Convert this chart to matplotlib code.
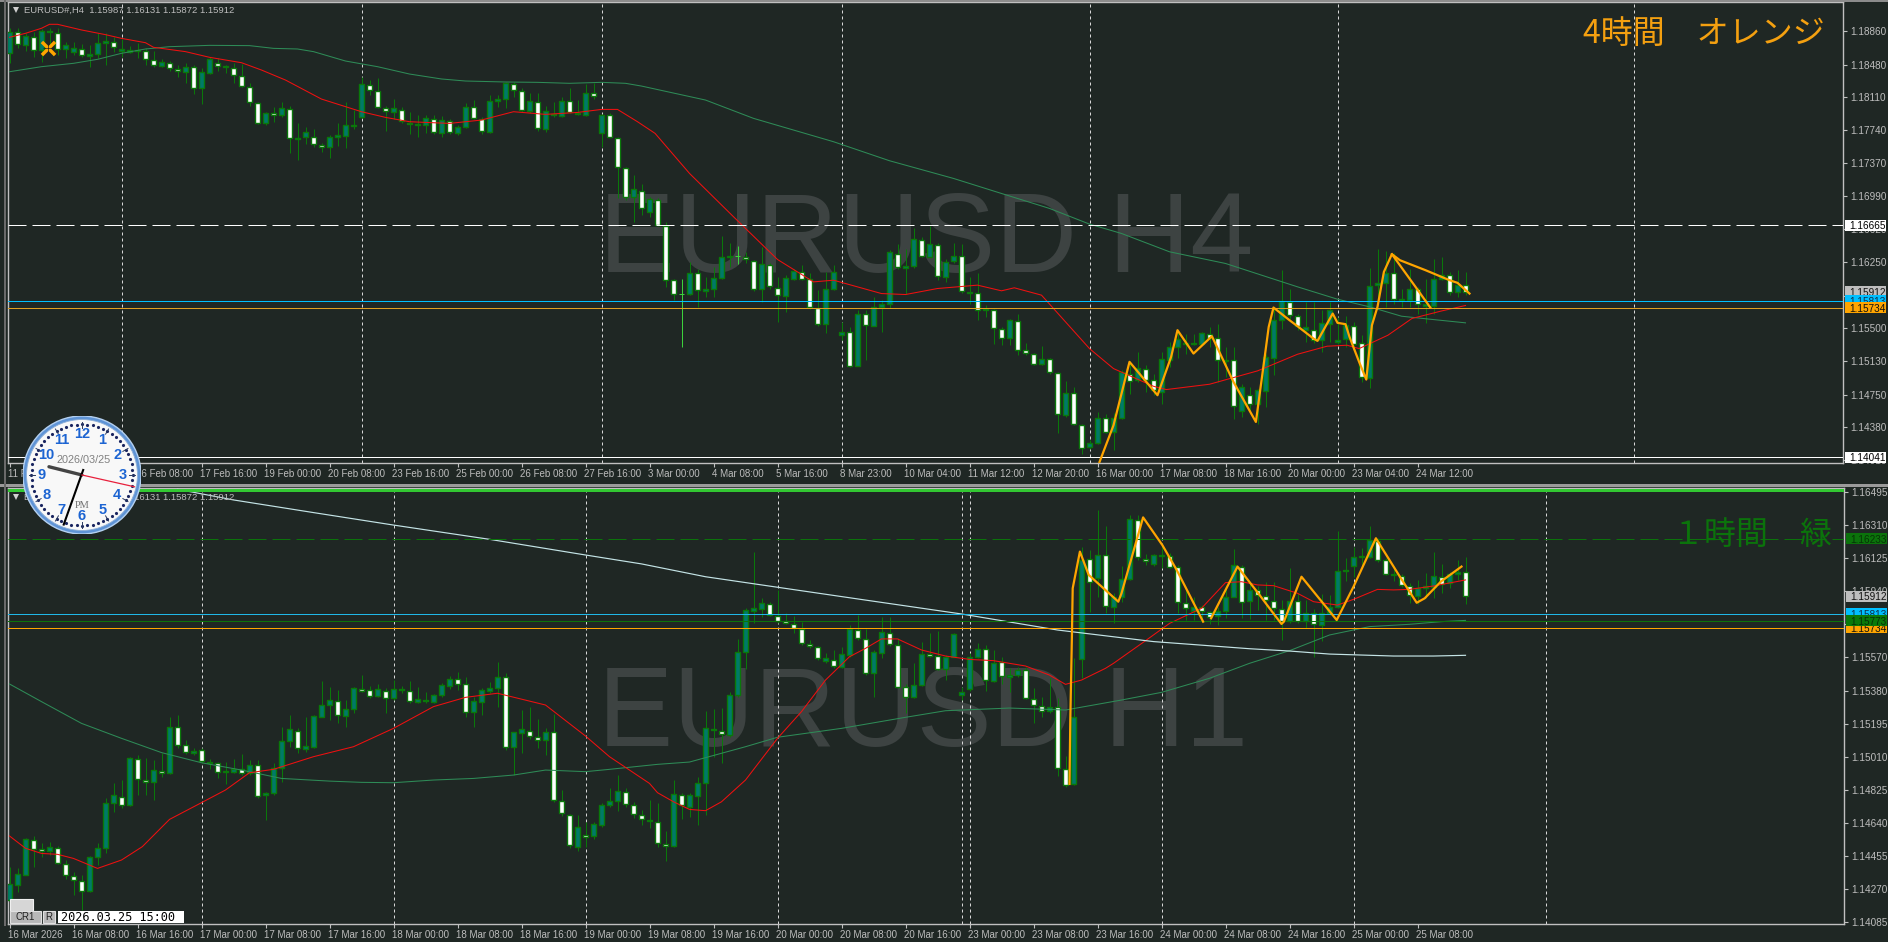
import numpy as np
import matplotlib
matplotlib.use("Agg")
import matplotlib.pyplot as plt
from matplotlib.patches import Rectangle, Circle
from matplotlib.transforms import blended_transform_factory as blend, ScaledTranslation

# ---- data: prices are in points, 18860 means 1.18860 ----
top_open = [18608,18853,18702,18796,18646,18864,18842,18653,18627,18657,
18581,18596,18728,18740,18638,18627,18634,18638,18532,18468,
18502,18431,18400,18457,18212,18389,18502,18449,18442,18351,
18231,18050,17816,17937,17907,17982,17643,17658,17665,17575,
17545,17658,17677,17786,17892,18253,18186,17993,17948,17971,
17824,17793,17793,17869,17710,17846,17710,17778,18005,17861,
17722,18065,18088,18261,18186,17959,18057,17748,17922,17899,
18072,17937,17914,18163,17710,17914,17650,17311,16979,17055,
16817,16949,16655,16044,15893,15893,16120,15924,15946,16074,
16301,16323,16308,16263,15939,16218,15961,15871,16059,16138,
16059,15735,15547,15946,15426,15460,15079,15660,15531,15743,
15780,16338,16187,16202,16497,16308,16440,16082,16263,16316,
15901,15901,15705,15705,15494,15388,15584,15253,15207,15102,
15154,14996,14521,14770,14408,14159,14204,14487,14329,14491,
14989,14913,15045,14913,14781,15147,15290,15320,15320,15320,
15441,15396,15132,15139,14566,14751,14649,14793,15170,15599,
15799,15637,15479,15479,15366,15554,15350,15384,15524,15335,
14943,15988,16007,16127,15818,15818,15939,15750,15750,16052,
16104,15912,15987]
top_close = [18853,18713,18804,18646,18864,18849,18657,18702,18664,18589,
18596,18728,18743,18676,18653,18642,18645,18544,18476,18506,
18442,18408,18457,18212,18393,18540,18465,18465,18363,18238,
18057,17816,17937,17914,17986,17650,17650,17722,17582,17548,
17658,17680,17793,17793,18261,18193,17997,17956,17990,17846,
17809,17809,17873,17718,17850,17718,17778,17997,17873,17726,
18065,18088,18269,18193,17967,18065,17760,17959,17907,18072,
17941,17922,18155,18121,17914,17665,17326,16987,17070,16855,
16957,16666,16044,15893,15893,16120,15931,15950,16074,16301,
16323,16323,16282,15939,16225,15976,15875,16074,16146,16063,
15743,15547,15950,16138,15464,15079,15667,15535,15743,15780,
16357,16195,16202,16504,16316,16448,16089,16252,16323,15924,
15916,15705,15724,15501,15388,15592,15253,15219,15094,15158,
15004,14529,14774,14416,14144,14208,14491,14333,14491,15008,
14906,15056,14913,14800,15158,15290,15384,15335,15335,15452,
15396,15147,15147,14619,14838,14649,14800,15177,15599,15810,
15648,15524,15516,15366,15565,15705,15373,15535,15328,14951,
15984,16007,16127,15833,15837,15939,15773,15773,16052,16108,
15916,15988,15912]
top_high = [18891,18891,18834,18853,18879,18891,18891,18740,18740,18710,
18702,18834,18842,18789,18766,18691,18721,18664,18638,18540,
18525,18476,18495,18476,18438,18563,18551,18476,18495,18487,
18269,18061,17948,18005,18061,18012,17816,17771,17748,17598,
17684,17816,18061,17967,18336,18306,18325,18012,18088,17997,
17948,17910,17910,17910,17899,17861,17797,18050,18080,17892,
18137,18137,18287,18287,18212,18155,18155,18012,18061,18118,
18212,18080,18261,18269,17922,17929,17658,17326,17232,17130,
16987,16968,16704,16063,16056,16252,16176,16082,16195,16542,
16459,16429,16365,16270,16421,16233,16082,16101,16176,16214,
16120,15931,16138,16214,15573,15516,15705,15705,15856,15818,
16384,16451,16402,16629,16527,16655,16459,16278,16459,16451,
16082,16127,15761,15724,15516,15611,15660,15335,15222,15298,
15170,15008,14906,14838,14423,14235,14555,14536,14544,15026,
15121,15234,15083,14989,15234,15347,15479,15441,15441,15460,
15516,15547,15290,15290,14876,14838,14819,15215,15724,16157,
15939,15667,15799,15799,15705,15799,15630,15637,15573,15422,
16187,16391,16376,16346,15939,16176,15969,16063,16278,16308,
16138,16157,16131]
top_low = [18502,18664,18638,18570,18514,18646,18589,18551,18589,18563,
18457,18551,18476,18627,18570,18608,18551,18476,18457,18457,
18412,18336,18276,18148,18035,18374,18412,18382,18269,18223,
18012,17809,17797,17835,17892,17484,17401,17582,17545,17492,
17428,17560,17533,17756,17873,18137,17986,17733,17861,17824,
17695,17665,17703,17695,17658,17695,17684,17760,17861,17695,
17710,18005,17986,18110,17948,17937,17733,17722,17884,17884,
17929,17910,17899,18095,17545,17658,16968,16949,16704,16779,
16760,16655,15969,15818,15290,15875,15743,15856,15856,16063,
16195,16225,16233,15924,15799,15950,15573,15686,16044,16044,
15724,15524,15449,15931,15366,15064,15072,15139,15524,15460,
15735,16176,15893,16187,16301,16301,16044,16025,16233,15901,
15773,15592,15630,15328,15309,15309,15196,15196,15083,15083,
14989,14317,14499,14404,14084,14140,14189,14318,14122,14480,
14762,14894,14781,14744,14649,15064,15170,15215,15309,15309,
15290,14894,14951,14480,14499,14555,14423,14612,14970,15498,
15611,15479,15347,15335,15234,15347,15328,15290,15309,14894,
14830,15780,15743,15773,15743,15743,15660,15562,15667,16044,
15875,15856,15872]

bot_open = [14207,14293,14349,14543,14491,14480,14500,14409,14341,14315,
14255,14446,14497,14749,14787,14738,14996,14880,14867,14932,
14918,15179,15075,15033,15048,14976,14977,14923,14927,14942,
14917,14964,14794,14809,14946,15101,15157,15056,15067,15236,
15299,15325,15241,15277,15393,15387,15352,15382,15342,15393,
15382,15320,15331,15320,15355,15410,15447,15419,15260,15320,
15382,15395,15460,15067,15146,15157,15123,15103,15151,14764,
14686,14506,14573,14566,14629,14738,14760,14815,14742,14686,
14657,14646,14521,14512,14798,14730,14792,14865,15168,15157,
15135,15355,15597,15831,15842,15870,15802,15771,15758,15730,
15645,15628,15550,15552,15516,15584,15724,15670,15483,15595,
15707,15640,15402,15344,15415,15589,15574,15501,15572,15359,
15389,15572,15617,15438,15541,15460,15468,15498,15337,15295,
15269,15290,14944,14856,15557,16119,16012,16143,15853,15905,
16010,16339,16119,16093,16137,16137,16074,15875,15831,15849,
15821,15801,15831,15909,16078,15887,15947,15913,15887,15840,
15771,15887,15771,15819,15752,15816,15849,16061,16081,16130,
16130,16223,16113,16029,16025,15969,15915,15956,15965,16020,
15988,16036,16048]
bot_close = [14296,14351,14547,14491,14480,14502,14412,14345,14319,14255,
14446,14497,14749,14794,14738,15002,14884,14869,14934,14921,
15179,15077,15035,15045,14985,14983,14925,14931,14944,14919,
14966,14790,14809,14946,15101,15165,15060,15069,15239,15299,
15327,15245,15277,15395,15382,15352,15389,15340,15389,15385,
15322,15333,15322,15355,15411,15449,15419,15260,15322,15383,
15395,15460,15067,15148,15165,15127,15105,15151,14768,14693,
14515,14618,14562,14631,14738,14760,14817,14745,14689,14663,
14648,14525,14510,14800,14738,14794,14865,15170,15161,15136,
15355,15597,15834,15844,15872,15808,15774,15760,15733,15647,
15630,15563,15563,15520,15585,15726,15675,15483,15597,15709,
15642,15404,15346,15415,15585,15576,15503,15572,15698,15374,
15572,15614,15441,15539,15464,15468,15498,15338,15299,15267,
15292,14946,14850,15236,16115,15993,16143,15857,15905,16010,
16343,16130,16111,16141,16143,16074,15879,15845,15853,15831,
15797,15829,15909,16085,15879,15947,15919,15890,15844,15774,
15887,15773,15819,15756,15819,15849,16055,16053,16134,16136,
16227,16115,16036,16036,15973,15919,15956,15971,16023,15980,
16036,16048,15912]
bot_high = [14394,14384,14553,14566,14525,14534,14510,14431,14366,14347,
14454,14525,14777,14865,14880,15011,15020,15002,14992,15030,
15232,15245,15105,15058,15058,14996,14983,14983,14996,15024,
14992,14992,14815,14974,15176,15245,15170,15236,15245,15436,
15400,15385,15329,15400,15469,15408,15419,15395,15441,15408,
15436,15400,15376,15363,15426,15464,15488,15456,15348,15395,
15432,15544,15479,15151,15273,15288,15221,15170,15249,14824,
14689,14684,14646,14646,14749,14833,14908,14833,14759,14712,
14768,14749,14596,14880,14805,14805,14899,15269,15277,15282,
15376,15670,15844,16160,15900,15881,15947,15816,15801,15769,
15666,15632,15591,15610,15628,15750,15806,15726,15610,15793,
15793,15675,15419,15535,15657,15707,15718,15582,15707,15404,
15591,15647,15638,15610,15569,15507,15516,15513,15395,15348,
15451,15339,15015,15563,16190,16171,16396,16306,15928,16081,
16368,16368,16149,16149,16209,16152,16087,15956,15909,15862,
15831,15853,15965,16175,16087,15984,15969,15993,15993,15890,
16068,15928,15890,15838,15924,15919,16280,16124,16186,16180,
16306,16237,16124,16074,16036,15984,16003,16044,16162,16093,
16049,16115,16130]
bot_low = [14150,14253,14345,14394,14450,14459,14409,14326,14235,14150,
14251,14403,14472,14702,14721,14734,14796,14796,14768,14895,
14914,15058,15026,15020,14974,14940,14889,14858,14917,14908,
14908,14777,14656,14796,14871,15067,15034,15039,15058,15232,
15217,15202,15176,15258,15376,15339,15348,15258,15329,15367,
15314,15310,15314,15314,15348,15393,15385,15232,15176,15245,
15367,15292,15048,14908,15030,15108,15058,15020,14758,14678,
14497,14483,14506,14547,14618,14730,14708,14730,14665,14627,
14609,14506,14427,14506,14659,14671,14626,14684,15007,14977,
15123,15348,15501,15763,15797,15801,15763,15756,15703,15638,
15619,15554,15539,15507,15507,15572,15666,15469,15348,15563,
15632,15395,15254,15339,15408,15572,15497,15441,15569,15329,
15381,15563,15381,15432,15419,15376,15460,15333,15198,15236,
15254,14903,14839,14852,15451,15825,15909,15816,15760,15881,
16003,16115,16085,16081,16068,16068,15819,15778,15778,15778,
15756,15750,15788,15905,15788,15782,15834,15778,15778,15666,
15759,15763,15731,15572,15662,15806,15844,15999,16021,16068,
16124,16106,16031,15999,15965,15872,15868,15900,15900,15928,
15956,16003,15868]

top_red_bar = [0,2,4,5,6,9,12,14,17,18,22,25,29,31.5,34.5,39,44,47,50,55,59,63,67,71,74,76,78.5,80.7,85,90.5,96,100.5,103,109,112,116,121,124,125.6,129,135,138,143,144.6,150,156,161,164.7,167.2,168.7,172.3,175.3,178.9,182]
top_red_val = [18789,18834,18891,18936,18936,18872,18819,18777,18728,18676,18627,18563,18502,18419,18306,18091,17948,17884,17835,17816,17854,17948,17918,17940,17974,17974,17835,17703,17251,16761,16278,16025,16044,15893,15882,15950,15988,15924,15958,15875,15271,15045,14845,14808,14868,15019,15207,15298,15309,15271,15422,15611,15694,15758]
top_green_bar = [0,4,8,11,14,17,20,25,30,33,36,38,42,46,50,54,57,62,66,70,74,77,79,87,93,103,110,118,124,130,135,139,145,152,161,166,170,174,178,182]
top_green_val = [18400,18457,18495,18540,18608,18657,18683,18698,18695,18664,18657,18627,18521,18457,18374,18318,18295,18284,18280,18269,18280,18269,18238,18080,17873,17609,17394,17194,17024,16855,16678,16572,16365,16233,15969,15829,15743,15637,15599,15562]
top_zig_bar = [136.25,138,139,140,143.5,145.2,146,148,150.3,153,155.8,156.9,157.4,158,160,161,163,163.5,165.4,166,167,167.5,168.7,169.6,170.3,171,171.8,172.8,173.8,177,180,181,182.5]
top_zig_val = [13989,14404,14762,15121,14744,15177,15479,15215,15411,14894,14442,15177,15516,15735,15592,15524,15384,15358,15667,15562,15547,15403,15121,14921,15535,15743,16138,16338,16270,16157,16044,16014,15893]
top_zig2_bar = [172.8,175.9,177.6]
top_zig2_val = [16338,15950,15735]

bot_red_bar = [0,2,4,6,8,11,14,16.6,20,24,27,30,33,38,43,48,53,57,61,67,72,75,80,81,83,85,87,89,92,96,99,102,105,107,109,111,114,117,120,123,127,130,132,134,137,138,142,145,149,152,154,156,158,161,163,166,168,171,173,175,178,182]
bot_red_val = [14566,14497,14468,14463,14440,14384,14431,14506,14659,14753,14824,14921,14940,15011,15067,15170,15292,15344,15367,15301,15127,15011,14861,14809,14758,14715,14708,14758,14880,15114,15264,15441,15572,15619,15672,15672,15610,15576,15557,15550,15520,15469,15417,15441,15507,15535,15662,15759,15844,15988,15993,15975,15971,15928,15881,15862,15894,15950,15947,15950,15969,16003]
bot_green_bar = [0,4,9,14,19,24,29,34,40,44,48,53,58,63,67,72,75,81,85,92,96,104,112,117,125,132,139,144,150,155,160,165,170,175,179,182]
bot_green_val = [15419,15320,15198,15114,15034,14977,14936,14889,14874,14867,14865,14880,14889,14908,14936,14927,14940,14968,14981,15067,15120,15170,15232,15269,15284,15273,15329,15372,15451,15535,15606,15694,15741,15754,15769,15776]
bot_pale_bar = [21,28,38,48,60,72,79,87,96,107,119,131,143,155,160,165,173,178,182]
bot_pale_val = [16512,16452,16381,16311,16231,16143,16093,16021,15962,15890,15812,15722,15657,15617,15604,15587,15576,15576,15580]
bot_zig1_bar = [132.5,132.6,132.8,132.9,133.8,134.9,138.6,139,141.7,144.1,145.9,149.2]
bot_zig1_val = [14858,15217,15685,15956,16162,16031,15881,15928,16354,16199,16059,15769]
bot_zig2_bar = [150.2,153.5,156.25,157.5,159,159.3,161.5,165.9,168,170.8,173.8,175.9,176.9,178.9,181.5]
bot_zig2_val = [15788,16078,15919,15844,15756,15769,16021,15778,15965,16237,16021,15875,15900,15993,16078]

top_tick_vals = [18860,18480,18110,17740,17370,16990,16620,16250,15870,15500,15130,14750,14380,14010]
bot_tick_vals = [16495,16310,16125,15940,15755,15570,15380,15195,15010,14825,14640,14455,14270,14085]
top_vgrid = [14,44,74,104,135,166,203]
bot_vgrid = [24,48,72,96,119,120,144,168,192]
top_dates = ["11 Feb 16:00","13 Feb 00:00","16 Feb 08:00","17 Feb 16:00","19 Feb 00:00","20 Feb 08:00","23 Feb 16:00","25 Feb 00:00","26 Feb 08:00","27 Feb 16:00","3 Mar 00:00","4 Mar 08:00","5 Mar 16:00","8 Mar 23:00","10 Mar 04:00","11 Mar 12:00","12 Mar 20:00","16 Mar 00:00","17 Mar 08:00","18 Mar 16:00","20 Mar 00:00","23 Mar 04:00","24 Mar 12:00"]
bot_dates = ["16 Mar 2026","16 Mar 08:00","16 Mar 16:00","17 Mar 00:00","17 Mar 08:00","17 Mar 16:00","18 Mar 00:00","18 Mar 08:00","18 Mar 16:00","19 Mar 00:00","19 Mar 08:00","19 Mar 16:00","20 Mar 00:00","20 Mar 08:00","20 Mar 16:00","23 Mar 00:00","23 Mar 08:00","23 Mar 16:00","24 Mar 00:00","24 Mar 08:00","24 Mar 16:00","25 Mar 00:00","25 Mar 08:00"]

# ---- styling ----
W, H = 1888, 942
BG = "#1F2724"; TEAL = "#007A68"; WICK = "#0A780A"; LIME = "#3CD23C"
AXC = "#C0C0C0"; TXT = "#BDBDBD"; BLUE = "#00BFFF"; ORG = "#FFA500"
DKG = "#0B730B"; SEA = "#2E8B57"; WM = "#3D4342"
UI = "Liberation Sans"
PX = 0.72  # linewidth of one pixel at dpi 100

def price(v):
    return 1 + np.asarray(v, dtype=float) / 1e5

fig = plt.figure(figsize=(W / 100, H / 100), dpi=100, facecolor=BG)

def make_axes(left, right, top, bottom):
    ax = fig.add_axes([left / W, 1 - bottom / H, (right - left) / W, (bottom - top) / H])
    ax.set_facecolor(BG)
    for s in ax.spines.values():
        s.set_color(AXC); s.set_linewidth(1.0)
    # 8 pixels per bar, bar 0 sitting at pixel 9.5
    ax.set_xlim((left - 9.5) / 8, (right - 9.5) / 8)
    return ax

ax1 = make_axes(8, 1843, 2, 463)
ax2 = make_axes(8, 1844, 488, 924)
ax1.set_ylim(1.13978, 1.19188)
ax2.set_ylim(1.14072, 1.16519)

def candles(ax, o, h, l, c):
    o, h, l, c = map(price, (o, h, l, c))
    x = np.arange(len(o))
    doji = o == c
    ax.vlines(x[~doji], l[~doji], h[~doji], color=WICK, lw=PX, zorder=3)
    ax.vlines(x[doji], l[doji], h[doji], color=LIME, lw=PX, zorder=3)
    ax.hlines(o[doji], x[doji] - 0.3, x[doji] + 0.3, color=LIME, lw=PX, zorder=3)
    up = c > o; dn = c < o
    ax.bar(x[up], (c - o)[up], bottom=o[up], width=0.6, facecolor=TEAL, edgecolor=WICK, linewidth=1.0, zorder=3.2)
    ax.bar(x[dn], (c - o)[dn], bottom=o[dn], width=0.6, facecolor="white", edgecolor=WICK, linewidth=1.0, zorder=3.2)

candles(ax1, top_open, top_high, top_low, top_close)
candles(ax2, bot_open, bot_high, bot_low, bot_close)

for ax, xs in ((ax1, top_vgrid), (ax2, bot_vgrid)):
    for b in xs:
        ax.axvline(b, color="#D8D8D8", lw=PX, ls=(0, (3, 3)), zorder=2)

# moving averages
ax1.plot(top_green_bar, price(top_green_val), color=SEA, lw=0.75, zorder=4)
ax1.plot(top_red_bar, price(top_red_val), color="#F01010", lw=0.75, zorder=4.1)
ax2.plot(bot_green_bar, price(bot_green_val), color=SEA, lw=0.75, zorder=4)
ax2.plot(bot_red_bar, price(bot_red_val), color="#F01010", lw=0.75, zorder=4.1)
ax2.plot(bot_pale_bar, price(bot_pale_val), color="#C4E4E6", lw=0.85, zorder=4.2)

# zigzags
for xs, ys, ax in ((top_zig_bar, top_zig_val, ax1), (top_zig2_bar, top_zig2_val, ax1),
                   (bot_zig1_bar, bot_zig1_val, ax2), (bot_zig2_bar, bot_zig2_val, ax2)):
    ax.plot(xs, price(ys), color=ORG, lw=1.6, zorder=5, solid_joinstyle="round")

# horizontal price lines
ax1.axhline(price(16665), color="white", lw=PX, ls=(0, (18, 6)), zorder=4.5)
ax1.axhline(price(15813), color=BLUE, lw=PX, zorder=4.5)
ax1.axhline(price(15734), color="#E0A020", lw=PX, zorder=4.5)
ax1.axhline(price(14041), color="white", lw=PX, zorder=4.5)
ax2.axhline(price(16233), color=DKG, lw=PX, ls=(0, (18, 6)), zorder=4.5)
ax2.axhline(price(15813), color="#20B8E8", lw=PX, zorder=4.5)
ax2.axhline(price(15773), color=DKG, lw=PX, zorder=4.5)
ax2.axhline(price(15734), color=ORG, lw=PX, zorder=4.5)

# watermarks behind the candles
ax1.text((599 - 8) / 1835, (463 - 272) / 461, "EURUSD H4", transform=ax1.transAxes, family=UI,
         fontsize=81.5, color=WM, va="baseline", ha="left", zorder=1)
ax2.text((598 - 8) / 1836, (924 - 746) / 436, "EURUSD H1", transform=ax2.transAxes, family=UI,
         fontsize=81, color=WM, va="baseline", ha="left", zorder=1)

# axes ticks
shift = ScaledTranslation(-1.5 / 100, 0, fig.dpi_scale_trans)
for ax, vals, dates in ((ax1, top_tick_vals, top_dates), (ax2, bot_tick_vals, bot_dates)):
    ax.yaxis.tick_right()
    ax.set_yticks(price(vals))
    ax.set_yticklabels([f"{price(v):.5f}" for v in vals], family=UI, fontsize=7.2, color=TXT)
    ax.set_xticks(np.arange(len(dates)) * 8)
    ax.set_xticklabels(dates, family=UI, fontsize=7.0, color=TXT, ha="left")
    ax.tick_params(axis="y", length=3, width=0.8, color=AXC, pad=2.5)
    ax.tick_params(axis="x", length=3, width=0.8, color=AXC, pad=1.5)
    for lab in ax.get_xticklabels():
        lab.set_transform(lab.get_transform() + shift)

# broker cursor icon
ax1.scatter([4.8], price([18664]), marker="x", s=90, color=ORG, linewidths=2.5, zorder=6)
ax1.scatter([4.8], price([18664]), marker="+", s=45, color="#222222", linewidths=0.5, zorder=6.1)

# price tags at the right edge
def tag(ax, val, fc, tc, units, x0, zz):
    tr = blend(ax.transAxes, ax.transData)
    w = ax.get_window_extent().width
    p = price(val)
    ax.add_patch(Rectangle((1 + x0 / w, p - 5.5 * units), 41 / w, 11 * units, transform=tr,
                           facecolor=fc, edgecolor="none", clip_on=False, zorder=zz))
    ax.text(1 + (x0 + 4) / w, p, f"{p:.5f}", transform=tr, va="center_baseline", ha="left", family=UI,
            fontsize=7.2, color=tc, clip_on=False, zorder=zz + 0.01)

U1, U2 = 11.3e-5, 5.612e-5
tag(ax1, 16665, "white", "black", U1, 2, 10)
tag(ax1, 14041, "white", "black", U1, 2, 10)
tag(ax1, 15912, "#BEBEBE", "#111111", U1, 2, 11)
tag(ax1, 15813, BLUE, "#10304A", U1, 2, 12)
tag(ax1, 15734, ORG, "#111111", U1, 2, 13)
tag(ax2, 16233, DKG, "#053505", U2, 2, 10)
tag(ax2, 15813, BLUE, "#10304A", U2, 2, 11)
tag(ax2, 15734, ORG, "#111111", U2, 2, 12)
tag(ax2, 15773, "#0A7A0A", "#063006", U2, 2, 13)
tag(ax2, 15912, "#BEBEBE", "#111111", U2, 2, 14)

# pixel-space overlay for the terminal furniture
ov = fig.add_axes([0, 0, 1, 1], zorder=5)
ov.set_xlim(0, W); ov.set_ylim(H, 0); ov.axis("off"); ov.patch.set_alpha(0)
ov.add_patch(Rectangle((0, 0), W, 2, facecolor="#8C8C8C", edgecolor="none"))
ov.add_patch(Rectangle((0, 484), W, 2.5, facecolor="#9A9A9A", edgecolor="none"))
ov.add_patch(Rectangle((3.5, 0), 2, H - 16, facecolor="#6A6A6A", edgecolor="none"))
ov.add_patch(Rectangle((8, 488.5), 1836, 3.5, facecolor="#32C832", edgecolor="none"))

hdr = "1.15987 1.16131 1.15872 1.15912"
for y, tf in ((10, "H4"), (497, "H1")):
    ov.plot([15.5], [y], marker="v", ms=5, color="#D0D0D0", mew=0)
    ov.text(24, y, f"EURUSD#,{tf}  {hdr}", family=UI, fontsize=6.8, color=TXT, va="center", ha="left")

ov.text(1583, 34, "4時間　オレンジ", family="Noto Sans CJK JP", fontsize=23, color="#F4A010", va="center", ha="left")
ov.text(1672, 535, "１時間　緑", family="Noto Sans CJK JP", fontsize=23, color=DKG, va="center", ha="left")

# bottom-left status boxes
ov.add_patch(Rectangle((10, 899), 23, 13, facecolor="#D6D6D6", edgecolor="#F0F0F0", lw=0.8))
ov.add_patch(Rectangle((10, 911), 31, 12, facecolor="#B8B8B8", edgecolor="#E0E0E0", lw=0.8))
ov.text(25.5, 917.5, "CR1", family=UI, fontsize=7, color="#222222", ha="center", va="center")
ov.add_patch(Rectangle((43, 911), 12, 12, facecolor="#B8B8B8", edgecolor="#E0E0E0", lw=0.8))
ov.text(49, 917.5, "R", family=UI, fontsize=7, color="#222222", ha="center", va="center")
ov.add_patch(Rectangle((58, 911), 126, 12, facecolor="white", edgecolor="none"))
ov.text(61, 917.5, "2026.03.25 15:00", family="DejaVu Sans Mono", fontsize=8.6, color="black", ha="left", va="center")

# analogue clock
cx, cy, R = 82, 475, 59
ck = fig.add_axes([(cx - R) / W, 1 - (cy + R) / H, 2 * R / W, 2 * R / H], zorder=10)
ck.set_xlim(-1, 1); ck.set_ylim(-1, 1); ck.axis("off"); ck.patch.set_alpha(0)
ck.add_patch(Circle((0, 0), 1.0, facecolor="#5F94D6", edgecolor="#B4D0F0", lw=1.0))
ck.add_patch(Circle((0, 0), 0.94, facecolor="#F8F8F8", edgecolor="#8FB0D8", lw=0.6))
ang = np.deg2rad(90 - np.arange(60) * 6)
ck.scatter(0.86 * np.cos(ang), 0.86 * np.sin(ang), s=1.6, color="#1A2560", zorder=2)
for a in ang[::5]:
    ck.plot([0.8 * np.cos(a), 0.9 * np.cos(a)], [0.8 * np.sin(a), 0.9 * np.sin(a)], color="#2A3A60", lw=0.7, zorder=2)
for n in range(1, 13):
    a = np.deg2rad(90 - n * 30)
    ck.text(0.69 * np.cos(a), 0.69 * np.sin(a), str(n), color="#1C64D2", family=UI, fontsize=10.5,
            fontweight="bold", ha="center", va="center", zorder=3)
ck.text(0.03, 0.26, "2026/03/25", color="#808080", family=UI, fontsize=7.8, ha="center", va="center", zorder=3)
ck.text(0.01, -0.52, "PM", color="#707070", family="Liberation Serif", fontsize=7.5, ha="center", va="center", zorder=3)
ck.plot([0, -0.56], [0, 0.14], color="#444444", lw=2.4, zorder=4, solid_capstyle="round")
ck.plot([0.02, -0.31], [0.085, -0.84], color="black", lw=1.5, zorder=5)
ck.plot([0, 0.89], [0, -0.2], color="#E8203C", lw=0.9, zorder=6)

fig.savefig("out.png", dpi=100, facecolor=BG)
